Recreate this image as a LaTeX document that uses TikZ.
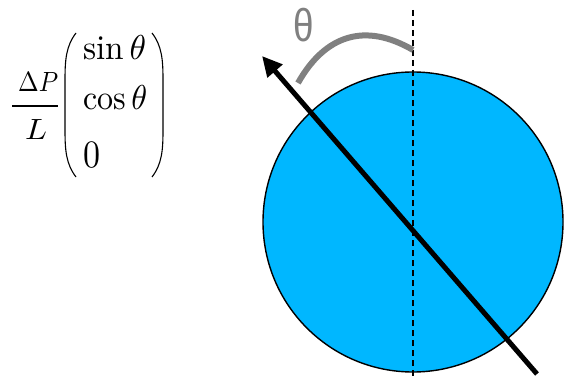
\documentclass[tikz,border=0pt]{standalone}
\usepackage{graphicx}
\usepackage{fontspec}
\newfontfamily\thetafont{Liberation Sans}
\usetikzlibrary{arrows.meta}
\definecolor{discblue}{RGB}{0,183,255}
\definecolor{arcgray}{RGB}{128,128,128}
\newcommand{\fitmath}[3]{\resizebox{#1}{#2}{$#3$}}
\tikzset{
  entry/.style={anchor=base west, inner sep=0pt},
  paren/.style={line width=1.1pt},
  disc/.style={circle, draw=black, line width=1.4pt, fill=discblue, minimum size=300pt, inner sep=0pt},
  axisline/.style={line width=1.4pt, dash pattern=on 6pt off 4pt},
  dirarrow/.style={line width=5pt, -{Triangle[length=20pt,width=19pt]}},
  anglearc/.style={arcgray, line width=6pt},
}
\begin{document}
\begin{tikzpicture}[x=1pt,y=-1pt]
\useasboundingbox (0,0) rectangle (564,379);
% formula
\node[entry] (dp) at (18,92) {\fitmath{40pt}{19pt}{\Delta P}};
\node[entry] (ll) at (25,140) {\fitmath{22pt}{20pt}{L}};
\coordinate (fl) at (12,106);
\coordinate (fr) at (58,106);
\draw[line width=1.1pt] (fl) -- (fr);
\node[entry] (e1) at (83,60) {\fitmath{63pt}{24pt}{\sin\theta}};
\node[entry] (e2) at (83,110) {\fitmath{64pt}{24pt}{\cos\theta}};
\node[entry] (e3) at (83,168) {\fitmath{17pt}{25pt}{0}};
\coordinate (lpt) at (76,33);
\coordinate (lpb) at (76,177);
\coordinate (rpt) at (152,33);
\coordinate (rpb) at (152,177);
\draw[paren] (lpt) .. controls (66,46) and (65,60) .. (65,80) -- (65,130) .. controls (65,150) and (66,164) .. (lpb);
\draw[paren] (rpt) .. controls (162,46) and (163,60) .. (163,80) -- (163,130) .. controls (163,150) and (162,164) .. (rpb);
% disc
\node[disc] (circ) at (413,222) {};
\coordinate (dtop) at (413,10);
\coordinate (dbot) at (413,379);
\draw[axisline] (dtop) -- (dbot);
% direction arrow
\coordinate (atail) at (537,374);
\coordinate (ahead) at (262,56);
\draw[dirarrow] (atail) -- (ahead);
% angle arc
\coordinate (arcs) at (298,83);
\coordinate (arce) at (413,50);
\draw[anglearc] (arcs) .. controls (325,35) and (365,22) .. (arce);
\node[text=arcgray, inner sep=0pt, font=\thetafont\fontsize{46}{48}\selectfont, xscale=0.8] (th) at (304,25) {θ};
\end{tikzpicture}
\end{document}
